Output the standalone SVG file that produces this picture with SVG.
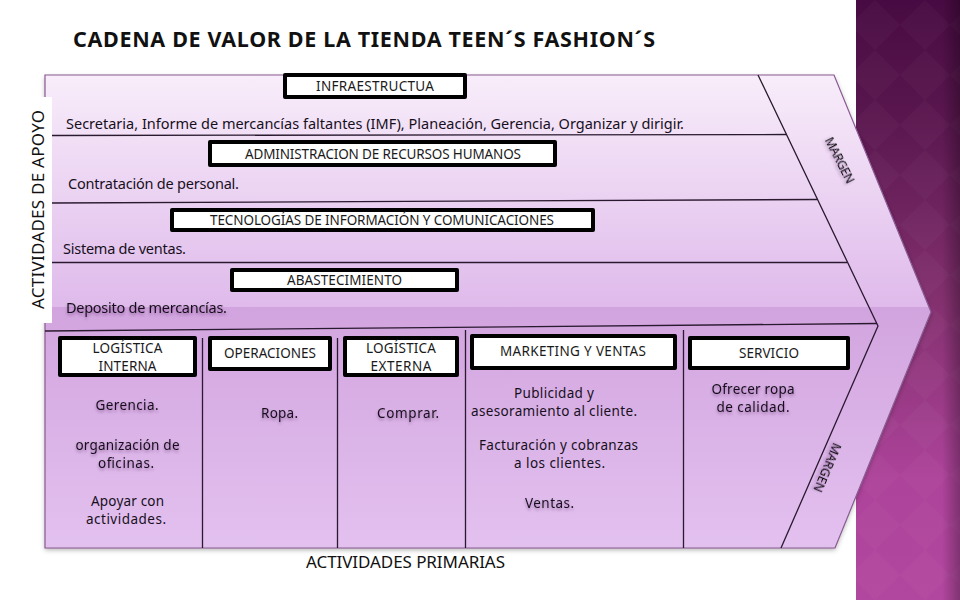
<svg xmlns="http://www.w3.org/2000/svg" width="960" height="600" viewBox="0 0 960 600">
<style>
text{font-family:"Noto Sans","DejaVu Sans",sans-serif;fill:#17101c}
.b{font-size:14.500px}
.h{font-size:13.500px;text-anchor:middle;fill:#1a1a1a}
.c{font-size:13.500px;text-anchor:middle}
.s{filter:url(#ts)}
.box{fill:#fff;stroke:#000;stroke-width:4;stroke-linejoin:round}
.rule{stroke:#2a1a30;stroke-width:1.3;fill:none}
.big{font-size:17px;fill:#111}
.m{font-size:12.500px;fill:#111}
</style>
<defs>
<linearGradient id="side" x1="0" y1="0" x2="0" y2="1"><stop offset="0" stop-color="#480a42"/><stop offset=".2" stop-color="#5a174f"/><stop offset=".5" stop-color="#83306f"/><stop offset=".8" stop-color="#ad439a"/><stop offset="1" stop-color="#b2479f"/></linearGradient>
<linearGradient id="edge" x1="0" y1="0" x2="1" y2="0"><stop offset="0" stop-color="#000" stop-opacity="0"/><stop offset="1" stop-color="#000" stop-opacity=".28"/></linearGradient>
<linearGradient id="top" gradientUnits="userSpaceOnUse" x1="0" y1="75" x2="0" y2="307"><stop offset="0" stop-color="#f8edfa"/><stop offset="1" stop-color="#dfbaeb"/></linearGradient>
<linearGradient id="low" gradientUnits="userSpaceOnUse" x1="0" y1="307" x2="0" y2="548"><stop offset="0" stop-color="#d2a4df"/><stop offset="1" stop-color="#e3c1ef"/></linearGradient>
<pattern id="dia" width="50" height="50" patternUnits="userSpaceOnUse"><path d="M25 0L50 25L25 50L0 25Z" fill="#fff" opacity=".022"/></pattern>
<filter id="as" x="-5%" y="-5%" width="110%" height="110%"><feDropShadow dx="0" dy="2" stdDeviation="2.500" flood-color="#000" flood-opacity=".3"/></filter>
<filter id="ts" x="-10%" y="-20%" width="120%" height="150%"><feDropShadow dx="0" dy="2" stdDeviation="1.600" flood-color="#3a1a45" flood-opacity=".4"/></filter>
</defs>

<g id="background">
<rect x="856" y="0" width="104" height="600" fill="url(#side)"/>
<rect x="856" y="0" width="104" height="600" fill="url(#dia)"/>
<rect x="942" y="0" width="18" height="600" fill="url(#edge)"/>
</g>

<g id="chevron">
<path d="M45 75H834L931 312L835 548H45Z" fill="#d2a4df" filter="url(#as)"/>
<path d="M45 75H834L928.900 307H45Z" fill="url(#top)"/>
<path d="M45 307H928.900L931 312L835 548H45Z" fill="url(#low)"/>
<path d="M45 548V75H834L931 312L835 548Z" fill="none" stroke="#8a5a92" stroke-width="1.200"/>
</g>

<rect id="label-bg" x="0" y="97" width="52" height="226" fill="#fff"/>

<g id="connectors">
<path class="rule" d="M52 135.500L787 134.500"/>
<path class="rule" d="M52 203L817 199.500"/>
<path class="rule" d="M52 262.500H847"/>
<path class="rule" d="M45 331L877 323.500"/>
<path class="rule" d="M758 75L878 326L781 548"/>
<path class="rule" d="M202.500 338V548M337.500 338V548M465.500 330V548M683.500 330V548"/>
</g>

<text id="title" x="73" y="47" font-weight="700" style="font-size:21.500px;fill:#111" textLength="582" lengthAdjust="spacing">CADENA DE VALOR DE LA TIENDA TEEN´S FASHION´S</text>

<g id="infraestructura">
<rect class="box" x="285" y="75" width="180" height="22"/>
<text class="h" x="375" y="91" textLength="118">INFRAESTRUCTUA</text>
<text class="b" x="66" y="129" textLength="618">Secretaria, Informe de mercancías  faltantes (IMF), Planeación, Gerencia, Organizar y dirigir.</text>
</g>
<g id="recursos-humanos">
<rect class="box" x="210" y="142" width="345" height="23"/>
<text class="h" x="383" y="159" textLength="276">ADMINISTRACION DE RECURSOS HUMANOS</text>
<text class="b" x="68" y="189" textLength="171">Contratación de personal.</text>
</g>
<g id="tecnologias">
<rect class="box" x="172" y="210" width="421" height="20"/>
<text class="h" x="382" y="225" textLength="344">TECNOLOGÍAS DE INFORMACIÓN Y COMUNICACIONES</text>
<text class="b" x="63" y="254" textLength="123">Sistema de ventas.</text>
</g>
<g id="abastecimiento">
<rect class="box" x="232" y="270" width="225" height="20"/>
<text class="h" x="344.500" y="285" textLength="115">ABASTECIMIENTO</text>
<text class="b s" x="66" y="313" textLength="161">Deposito de mercancías.</text>
</g>

<g id="logistica-interna">
<rect class="box" x="60" y="338" width="135" height="37"/>
<text class="h" x="127.500" y="353" textLength="70">LOGÍSTICA</text>
<text class="h" x="127.500" y="371" textLength="58">INTERNA</text>
<text class="c s" x="127" y="410" textLength="63">Gerencia.</text>
<text class="c s" x="127.500" y="450" textLength="104">organización de</text>
<text class="c s" x="126" y="468" textLength="56">oficinas.</text>
<text class="c" x="127.500" y="506" textLength="73">Apoyar con</text>
<text class="c" x="126" y="524" textLength="80">actividades.</text>
</g>
<g id="operaciones">
<rect class="box" x="210" y="338" width="120" height="31"/>
<text class="h" x="270" y="358" textLength="92">OPERACIONES</text>
<text class="c s" x="279.500" y="418" textLength="37">Ropa.</text>
</g>
<g id="logistica-externa">
<rect class="box" x="345" y="338" width="112" height="37"/>
<text class="h" x="401" y="353" textLength="70">LOGÍSTICA</text>
<text class="h" x="401" y="371" textLength="61">EXTERNA</text>
<text class="c s" x="408" y="418" textLength="62">Comprar.</text>
</g>
<g id="marketing">
<rect class="box" x="472" y="336" width="203" height="32"/>
<text class="h" x="573" y="356" textLength="146">MARKETING Y VENTAS</text>
<text class="c" x="554" y="398" textLength="80">Publicidad y</text>
<text class="c" x="554" y="416" textLength="166">asesoramiento al cliente.</text>
<text class="c" x="558.500" y="450" textLength="159">Facturación y cobranzas</text>
<text class="c" x="559.500" y="468" textLength="91">a los clientes.</text>
<text class="c s" x="549.500" y="508" textLength="49">Ventas.</text>
</g>
<g id="servicio">
<rect class="box" x="690" y="338" width="158" height="30"/>
<text class="h" x="769" y="358" textLength="60">SERVICIO</text>
<text class="c s" x="753" y="394" textLength="83">Ofrecer ropa</text>
<text class="c s" x="753" y="412" textLength="73">de calidad.</text>
</g>

<text id="margen-top" class="m s" transform="translate(824.500 140) rotate(63)" textLength="50">MARGEN</text>
<text id="margen-low" class="m s" transform="translate(833.500 442) rotate(113)" textLength="52">MARGEN</text>

<text id="actividades-apoyo" class="big" transform="translate(44 309) rotate(-90)" textLength="199">ACTIVIDADES DE APOYO</text>
<text id="actividades-primarias" class="big" x="306" y="568" textLength="199">ACTIVIDADES PRIMARIAS</text>
</svg>
